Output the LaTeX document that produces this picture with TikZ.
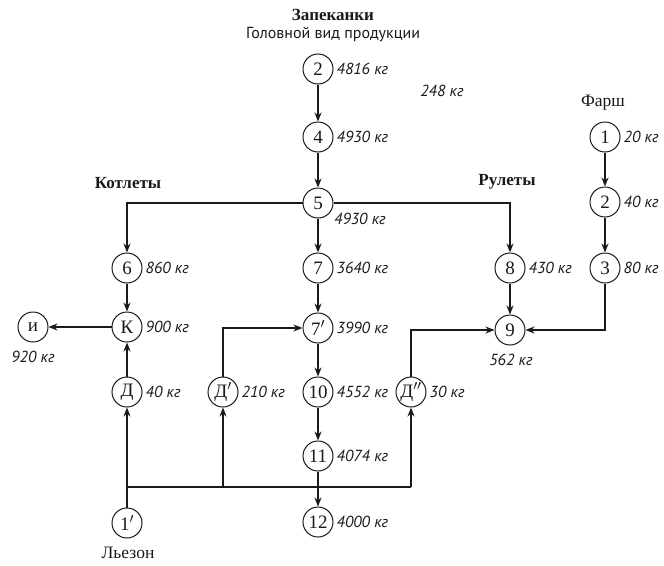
\documentclass[tikz,border=0pt]{standalone}
\usepackage{fontspec}
\setmainfont{Liberation Serif}
\newfontfamily\wtfont{PT Sans}
\usetikzlibrary{arrows.meta,positioning,calc}
\definecolor{ink}{HTML}{1A1A1A}
\tikzset{
  stage/.style={circle, draw=ink, line width=1pt, minimum size=30pt, inner sep=0pt, font=\fontsize{19}{19}\selectfont, text=ink},
  flow/.style={-{Stealth[length=9pt,width=7pt]}, line width=1.5pt, draw=ink},
  link/.style={line width=1.5pt, draw=ink},
  wt/.style={font=\wtfont\itshape\fontsize{16}{17}\selectfont, text=ink, inner sep=1pt},
  head/.style={font=\bfseries\fontsize{17}{18}\selectfont, text=ink},
  caption/.style={font=\fontsize{17.5}{18}\selectfont, text=ink},
}

\begin{document}
\begin{tikzpicture}[x=1pt,y=-1pt]
  \useasboundingbox (0,0) rectangle (664,565);
  % titles
  \node[head] (title) at (333,15) {Запеканки};
  \node[font=\wtfont\fontsize{16}{17}\selectfont, text=ink] (sub) at (333,35) {Головной вид продукции};
  \node[head] (kotl) at (128,183) {Котлеты};
  \node[head] (rul) at (507,182) {Рулеты};
  \node[caption] (farsh) at (603,103) {Фарш};
  \node[caption] (lez) at (128,553) {Льезон};

  % main line
  \node[stage] (n2) at (318,69) {2};
  \node[stage] (n4) at (318,137) {4};
  \node[stage] (n5) at (318,203) {5};
  \node[stage] (n7) at (318,268) {7};
  \node[stage] (n7p) at (318,328) {7$'$};
  \node[stage] (n10) at (318,392) {10};
  \node[stage] (n11) at (318,456) {11};
  \node[stage] (n12) at (318,522) {12};
  % cutlets
  \node[stage] (n6) at (127,268) {6};
  \node[stage] (nK) at (127,327) {К};
  \node[stage] (nD) at (127,392) {Д};
  \node[stage] (nI) at (33,327) {и};
  \node[stage] (nDp) at (223,392) {Д$'$};
  \node[stage] (nDpp) at (411,392) {Д$''$};
  \node[stage] (n1p) at (127,523) {1$'$};
  % rolls and mince
  \node[stage] (n8) at (510,268) {8};
  \node[stage] (n9) at (510,330) {9};
  \node[stage] (f1) at (605,137) {1};
  \node[stage] (f2) at (605,202) {2};
  \node[stage] (f3) at (605,268) {3};

  % weights
  \node[wt, right=2pt of n2] {4816 кг};
  \node[wt] at (442,91) {248 кг};
  \node[wt, right=2pt of n4] {4930 кг};
  \node[wt] at (360,219) {4930 кг};
  \node[wt, right=2pt of n7] {3640 кг};
  \node[wt, right=2pt of n7p] {3990 кг};
  \node[wt, right=2pt of n10] {4552 кг};
  \node[wt, right=2pt of n11] {4074 кг};
  \node[wt, right=2pt of n12] {4000 кг};
  \node[wt, right=2pt of n6] {860 кг};
  \node[wt, right=2pt of nK] {900 кг};
  \node[wt, right=2pt of nD] {40 кг};
  \node[wt, right=2pt of nDp] {210 кг};
  \node[wt, right=2pt of nDpp] {30 кг};
  \node[wt, right=2pt of n8] {430 кг};
  \node[wt] at (511,360) {562 кг};
  \node[wt] at (33,357) {920 кг};
  \node[wt, right=2pt of f1] {20 кг};
  \node[wt, right=2pt of f2] {40 кг};
  \node[wt, right=2pt of f3] {80 кг};

  % connectors
  \draw[flow] (n2) -- (n4);
  \draw[flow] (n4) -- (n5);
  \draw[flow] (n5) -- (n7);
  \draw[flow] (n7) -- (n7p);
  \draw[flow] (n7p) -- (n10);
  \draw[flow] (n10) -- (n11);
  \draw[flow] (n11) -- (n12);
  \draw[flow] (n5.west) -| (n6.north);
  \draw[flow] (n5.east) -| (n8.north);
  \draw[flow] (n6) -- (nK);
  \draw[flow] (nD) -- (nK);
  \draw[flow] (nK) -- (nI);
  \draw[flow] (n8) -- (n9);
  \draw[flow] (f1) -- (f2);
  \draw[flow] (f2) -- (f3);
  \draw[flow] (f3.south) |- (n9.east);
  \draw[flow] (nDp.north) |- (n7p.west);
  \draw[flow] (nDpp.north) |- (n9.west);
  \coordinate (bus) at (127,487);
  \draw[link] (n1p.north) -- (bus) -- (bus -| nDpp);
  \draw[flow] (bus) -- (nD);
  \draw[flow] (bus -| nDp) -- (nDp);
  \draw[flow] (bus -| nDpp) -- (nDpp);
\end{tikzpicture}
\end{document}
